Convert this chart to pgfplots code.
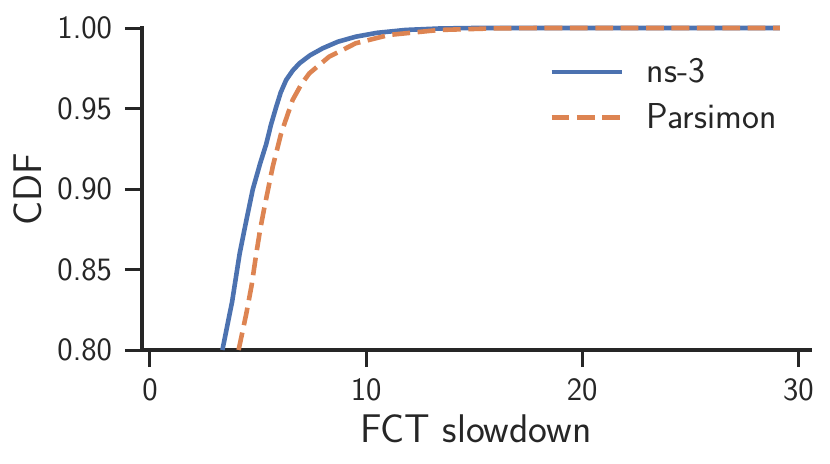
\documentclass[border=0pt]{standalone}
\usepackage{pgfplots}
\pgfplotsset{compat=1.18}
\renewcommand{\familydefault}{\sfdefault}
\definecolor{sbblue}{HTML}{4C72B0}
\definecolor{sborange}{HTML}{DD8452}
\definecolor{sbgray}{HTML}{262626}
\begin{document}
\begin{tikzpicture}
\begin{axis}[
    scale only axis,
    width=334pt, height=161pt,
    xmin=-0.37, xmax=30.54,
    ymin=0.8, ymax=1.0,
    axis lines*=left,
    axis line style={sbgray, line width=1.7pt, line cap=rect},
    xtick={0,10,20,30},
    ytick={0.80,0.85,0.90,0.95,1.00},
    /pgf/number format/assume math mode=true,
    tick align=outside,
    major tick length=8.5pt,
    every tick/.style={sbgray, line width=1.5pt},
    tick label style={font=\fontsize{16.3}{19}\selectfont, text=sbgray},
    yticklabel style={xshift=-3pt, /pgf/number format/.cd, fixed, fixed zerofill, precision=2},
    xticklabel style={yshift=-2.5pt},
    label style={font=\fontsize{20}{23}\selectfont, text=sbgray},
    xlabel={FCT slowdown},
    ylabel={CDF},
    xlabel style={at={(axis description cs:0.5,-0.245)}, anchor=center},
    ylabel style={at={(axis description cs:-0.1707,0.5)}, anchor=center},
    clip=false,
    legend style={draw=none, fill=none, at={(axis description cs:0.609,0.919)},
        anchor=north west, font=\fontsize{18}{21}\selectfont, text=sbgray,
        row sep=5pt, inner sep=0pt,
        /tikz/every odd column/.style={column sep=9.5pt}},
    legend cell align=left,
    legend image code/.code={\draw[#1] (0pt,0pt) -- (35pt,0pt);},
]
\addplot[sbblue, line width=2.3pt] coordinates {
    (3.35,0.80) (3.8,0.83) (4.15,0.86) (4.45,0.88) (4.76,0.90) (5.1,0.916)
    (5.38,0.928) (5.6,0.94) (5.84,0.951) (6.05,0.96) (6.3,0.9677) (6.6,0.9735)
    (6.91,0.978) (7.4,0.983) (7.99,0.9874) (8.7,0.9915) (9.52,0.9946)
    (10.5,0.997) (11.83,0.9988) (13.4,0.9997) (15,1.0) (29.15,1.0)
};
\addplot[sborange, line width=2.3pt, dash pattern=on 8.9pt off 3.8pt] coordinates {
    (4.1,0.80) (4.46,0.8228) (4.7,0.84) (4.92,0.86) (5.1,0.875) (5.30,0.889)
    (5.68,0.9139) (6.07,0.9346) (6.6,0.9553) (7.0,0.965) (7.37,0.9718)
    (8.29,0.9822) (9.52,0.9905) (11.06,0.9957) (13.4,0.9988) (16,0.9998)
    (18,1.0) (29.15,1.0)
};
\legend{ns-3, Parsimon}
\end{axis}
\useasboundingbox (current axis.south west) ++(-71pt,-56.5pt) rectangle ++(415pt,231.5pt);
\end{tikzpicture}
\end{document}
